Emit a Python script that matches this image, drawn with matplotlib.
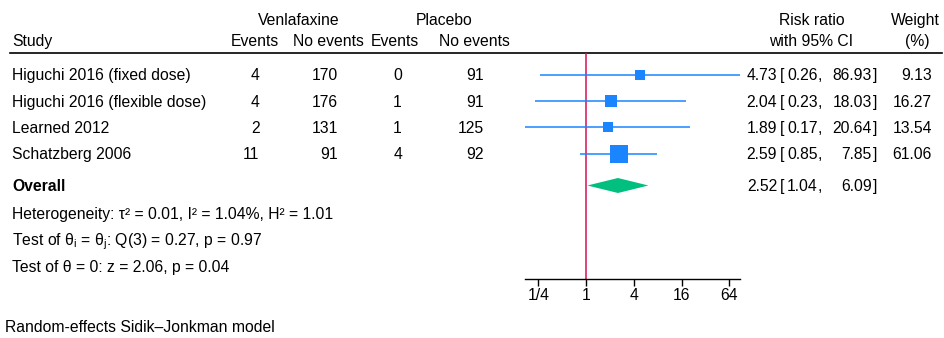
import matplotlib.pyplot as plt
import numpy as np

plt.rcParams['font.family'] = ['Liberation Sans', 'DejaVu Sans']
plt.rcParams['mathtext.fontset'] = 'custom'
plt.rcParams['mathtext.rm'] = 'Liberation Sans'
plt.rcParams['mathtext.it'] = 'Liberation Sans'

###################### data ###########################
studies = ["Higuchi 2016 (fixed dose)", "Higuchi 2016 (flexible dose)",
           "Learned 2012", "Schatzberg 2006"]
venla_events = [4, 4, 2, 11]
venla_no_events = [170, 176, 131, 91]
placebo_events = [0, 1, 1, 4]
placebo_no_events = [91, 91, 125, 92]
rr = [4.73, 2.04, 1.89, 2.59]
ci_low = [0.26, 0.23, 0.17, 0.85]
ci_high = [86.93, 18.03, 20.64, 7.85]
weights = [9.13, 16.27, 13.54, 61.06]

overall_rr, overall_low, overall_high = 2.52, 1.04, 6.09

tick_values = [0.25, 1, 4, 16, 64]
tick_labels = ["1/4", "1", "4", "16", "64"]

stats_lines = [
    r"Heterogeneity: τ² = 0.01, I² = 1.04%, H² = 1.01",
    r"Test of $\mathregular{\theta_i}$ = $\mathregular{\theta_j}$: Q(3) = 0.27, p = 0.97",
    "Test of θ = 0: z = 2.06, p = 0.04",
]
footnote = "Random-effects Sidik\u2013Jonkman model"

###################### layout (pixels) ###########################
W, H = 944, 338
fs = 11.3
base = 0.358 * fs * 100 / 72   # cap-centre to baseline, in pixels
blue = "#1a85ff"
green = "#00bf7f"
red = "#d41159"

row_y = [74.7 + 26.3 * i for i in range(len(studies))]
overall_y = 185.5
top_line = 53
axis_y = 278.7
x_left, x_right = 525, 740

fig = plt.figure(figsize=(W / 100, H / 100), dpi=100)

# text layer in pixel coordinates
tx = fig.add_axes([0, 0, 1, 1])
tx.set_xlim(0, W)
tx.set_ylim(H, 0)
tx.axis('off')


def put(x, y, s, ha='left', **kw):
    tx.text(x, y + base, s, ha=ha, va='baseline', fontsize=fs, **kw)


# forest panel
ax = fig.add_axes([x_left / W, 1 - axis_y / H, (x_right - x_left) / W, (axis_y - top_line) / H])
ax.set_xscale('log', base=2)
ax.set_xlim(min(ci_low), max(ci_high))
ax.set_ylim(axis_y, top_line)
ax.patch.set_alpha(0)
for s in ['top', 'left', 'right']:
    ax.spines[s].set_visible(False)
ax.spines['bottom'].set_linewidth(1)
ax.set_yticks([])
ax.set_xticks(tick_values)
ax.set_xticklabels(tick_labels, fontsize=fs)
ax.minorticks_off()
ax.tick_params(axis='x', direction='out', length=5, width=1, pad=2)

ax.axvline(1, color=red, lw=1.1, zorder=1)

for i in range(len(studies)):
    y = row_y[i]
    ax.plot([ci_low[i], ci_high[i]], [y, y], color=blue, lw=1.3, alpha=0.85, zorder=2,
            solid_capstyle='butt')
    side = 4 + 1.8 * np.sqrt(weights[i])
    ax.plot(rr[i], y, marker='s', color=blue, markersize=side * 0.72, markeredgewidth=0, zorder=3)

dh = 7.5
ax.fill([overall_low, overall_rr, overall_high, overall_rr],
        [overall_y, overall_y - dh, overall_y, overall_y + dh], color=green, lw=0, zorder=3)

# header
tx.plot([10, 942], [top_line, top_line], color='black', lw=1.2)
put(299, 19, "Venlafaxine", ha='center')
put(444.5, 19, "Placebo", ha='center')
put(12, 40.5, "Study")
for xc, lab in [(255, "Events"), (328, "No events"), (395, "Events"), (474.5, "No events")]:
    put(xc, 40.5, lab, ha='center')
put(811.5, 19, "Risk ratio", ha='center')
put(811.5, 40.5, "with 95% CI", ha='center')
put(915, 19, "Weight", ha='center')
put(917, 40.5, "(%)", ha='center')


def ci_text(y, est, lo, hi):
    put(777, y, f"{est:.2f}", ha='right')
    put(780, y, "[")
    put(817.5, y, f"{lo:.2f}", ha='right')
    put(818, y, ",")
    put(872, y, f"{hi:.2f}", ha='right')
    put(873, y, "]")


for i in range(len(studies)):
    y = row_y[i]
    put(12, y, studies[i])
    put(259.5, y, str(venla_events[i]), ha='right')
    put(338, y, str(venla_no_events[i]), ha='right')
    put(402, y, str(placebo_events[i]), ha='right')
    put(484, y, str(placebo_no_events[i]), ha='right')
    ci_text(y, rr[i], ci_low[i], ci_high[i])
    put(932, y, f"{weights[i]:.2f}", ha='right')

put(12, overall_y, "Overall", fontweight='bold')
ci_text(overall_y, overall_rr, overall_low, overall_high)

for k, line in enumerate(stats_lines):
    put(12, 213 + 26.5 * k, line)

put(5, 326, footnote)

fig.savefig("out.png", dpi=100)
